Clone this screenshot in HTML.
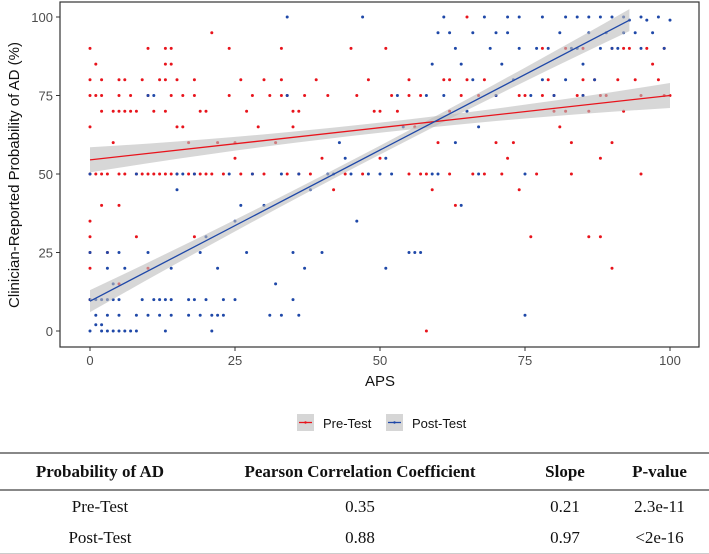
<!DOCTYPE html>
<html><head><meta charset="utf-8"><style>
body{margin:0;background:#fff;width:709px;height:554px;overflow:hidden;font-family:"Liberation Sans",sans-serif}
#tbl{position:absolute;left:0;top:452px;width:709px;border-collapse:collapse;font-family:"Liberation Serif",serif;font-size:17px;color:#111}
#tbl th{font-weight:bold;height:35px;border-top:2px solid #888;border-bottom:2px solid #888;text-align:center;padding:0}
#tbl td{text-align:center;height:31px;padding:0}
#tbl tr:last-child td{border-bottom:1px solid #ccc}
</style></head><body>
<svg id="chart" width="709" height="450" style="position:absolute;left:0;top:0"></svg>
<table id="tbl">
<tr><th style="width:200px">Probability of AD</th><th style="width:320px">Pearson Correlation Coefficient</th><th style="width:90px">Slope</th><th>P-value</th></tr>
<tr><td>Pre-Test</td><td>0.35</td><td>0.21</td><td>2.3e-11</td></tr>
<tr><td>Post-Test</td><td>0.88</td><td>0.97</td><td>&lt;2e-16</td></tr>
</table>
<script>
const preX=[0,0,0,0,0,0,0,0,0,0,1,1,1,2,2,2,2,2,3,3,4,4,5,5,5,5,5,5,6,6,6,7,7,8,8,8,9,9,10,10,10,10,11,11,12,12,13,13,13,13,13,14,14,14,14,15,15,15,16,16,17,17,18,18,18,18,19,19,20,20,21,21,22,23,24,24,25,25,26,26,27,28,28,29,30,30,31,32,33,33,33,34,34,35,35,36,36,37,38,39,40,41,42,44,45,46,47,48,49,50,50,51,52,53,55,55,55,56,57,57,58,58,59,60,61,62,62,62,63,64,65,65,66,67,68,68,70,70,71,72,73,74,74,75,76,77,78,78,79,80,80,81,82,82,83,83,84,85,85,85,86,86,87,88,88,88,89,90,90,90,91,92,92,93,94,95,95,96,97,98,99,99,100];
const preY=[90,80,75,65,50,35,30,25,20,10,85,75,50,80,75,70,50,40,50,25,70,60,80,75,70,50,40,15,80,70,50,75,70,70,50,30,80,50,90,75,50,20,70,50,80,50,90,85,80,70,50,90,85,75,50,80,65,50,75,65,60,50,80,75,50,30,70,50,70,50,95,50,60,50,90,75,60,55,80,50,70,75,50,65,80,50,75,60,90,80,75,75,50,70,65,70,50,75,50,80,55,75,45,50,90,75,50,80,70,70,55,90,75,70,80,75,50,65,75,50,50,0,45,60,80,80,70,50,40,75,100,80,50,75,80,50,75,60,50,55,60,75,45,75,30,50,90,75,80,75,70,65,90,70,60,50,75,90,80,75,70,30,80,75,55,30,75,90,60,20,80,90,70,90,80,75,50,90,85,80,90,75,75];
const postX=[0,0,0,0,1,1,1,2,2,2,3,3,3,3,3,4,4,4,5,5,5,5,6,6,7,8,8,8,9,10,10,10,11,11,12,12,13,13,14,14,14,15,15,16,17,17,18,18,19,19,20,20,21,21,22,22,23,23,24,25,25,26,27,28,30,31,32,33,33,34,34,35,35,36,36,37,38,40,41,42,43,44,45,46,47,48,50,51,51,52,53,54,55,56,57,58,59,59,60,61,61,62,63,63,64,65,66,66,67,67,68,69,70,71,72,72,73,74,75,75,76,77,78,78,79,80,81,82,82,83,84,84,85,85,86,86,87,88,88,89,90,90,91,92,92,93,94,95,95,96,97,98,99,100,60,64,70,74];
const postY=[0,10,25,50,2,10,5,0,2,10,0,5,10,25,20,0,10,15,0,5,10,25,0,20,0,0,5,50,10,25,5,75,10,75,5,10,10,0,10,5,20,50,45,50,5,10,10,50,5,25,10,30,0,5,5,20,5,10,50,10,35,40,25,50,40,5,15,5,50,100,75,10,25,5,50,20,45,25,50,50,60,55,50,35,100,50,50,55,20,50,75,65,25,25,25,75,50,85,50,100,75,95,60,90,85,70,95,80,65,50,100,90,75,85,100,95,80,90,50,5,75,90,100,80,90,75,95,100,80,90,100,90,85,75,100,95,80,90,100,95,100,90,90,95,100,99,95,100,90,99,95,100,90,99,95,40,95,100];
const fitX=[0,100];
const preFitY=[54.5,75];
const preBand=[4,3.5];
const postFitX=[0,93];
const postFitY=[9.5,99];
const postBand=[3.5,3.5];
const xTicks=[0,25,50,75,100];
const yTicks=[0,25,50,75,100];

const NS="http://www.w3.org/2000/svg";
const svg=document.getElementById('chart');
const sx=v=>90+v*5.8;
const sy=v=>331-v*3.14;
function mk(t,a,p){const e=document.createElementNS(NS,t);for(const k in a)e.setAttribute(k,a[k]);(p||svg).appendChild(e);return e;}
const panel=mk('rect',{x:60,y:2,width:639,height:345,fill:'#fff',stroke:'#333','stroke-width':1.2});


function band(xs,ys,bs,name){
  const lerp=(a,t)=>a[0]+(a[1]-a[0])*t;const up=[],dn=[];
  for(let i=0;i<=20;i++){const t=i/20,x=lerp(xs,t),y=lerp(ys,t),mid=Math.abs(t-0.5)*2;const b=bs[0]*(0.4+0.6*mid*mid)+ (bs[1]-bs[0])*t*0;up.push(sx(x)+','+sy(y+b));dn.unshift(sx(x)+','+sy(y-b));}
  const p=mk('polygon',{points:up.concat(dn).join(' '),fill:'#bdbdbd','fill-opacity':0.6});
  
  
}
function pts(xs,ys,col,name){
  for(let i=0;i<xs.length;i++){const c=mk('circle',{cx:sx(xs[i]),cy:sy(ys[i]),r:1.5,fill:col});
    
    }
}
pts(preX,preY,'#e8141c','pre-test-point');
pts(postX,postY,'#1f48a8','post-test-point');
band(fitX,preFitY,preBand,'pre-test-ci-band');
band(postFitX,postFitY,postBand,'post-test-ci-band');
const l1=mk('line',{x1:sx(fitX[0]),y1:sy(preFitY[0]),x2:sx(fitX[1]),y2:sy(preFitY[1]),stroke:'#e8141c','stroke-width':1.3});


const l2=mk('line',{x1:sx(postFitX[0]),y1:sy(postFitY[0]),x2:sx(postFitX[1]),y2:sy(postFitY[1]),stroke:'#1f48a8','stroke-width':1.3});


xTicks.forEach(v=>{mk('line',{x1:sx(v),x2:sx(v),y1:347,y2:351,stroke:'#333'});
  const t=mk('text',{x:sx(v),y:365,'text-anchor':'middle','font-size':13,fill:'#4d4d4d'});t.textContent=v;
  
  });
yTicks.forEach(v=>{mk('line',{x1:56,x2:60,y1:sy(v),y2:sy(v),stroke:'#333'});
  const t=mk('text',{x:53,y:sy(v)+5,'text-anchor':'end','font-size':13,fill:'#4d4d4d'});t.textContent=v;
  
  });
const xt=mk('text',{x:380,y:386,'text-anchor':'middle','font-size':15,fill:'#111'});xt.textContent='APS';


const yt=mk('text',{x:0,y:0,'text-anchor':'middle','font-size':15,fill:'#111',transform:'translate(19,175) rotate(-90)'});yt.textContent='Clinician-Reported Probability of AD (%)';


[['Pre-Test','#e8141c',297],['Post-Test','#1f48a8',386]].forEach(([n,c,x])=>{
  const g=mk('g',{});
  
  
  mk('rect',{x:x,y:414,width:17,height:17,fill:'#d6d6d6'},g);
  mk('line',{x1:x+2,x2:x+15,y1:422.5,y2:422.5,stroke:c,'stroke-width':1.3},g);
  mk('circle',{cx:x+8.5,cy:422.5,r:1.2,fill:c},g);
  const t=mk('text',{x:x+26,y:428,'font-size':13,fill:'#111'},g);t.textContent=n;
});
</script>
</body></html>
